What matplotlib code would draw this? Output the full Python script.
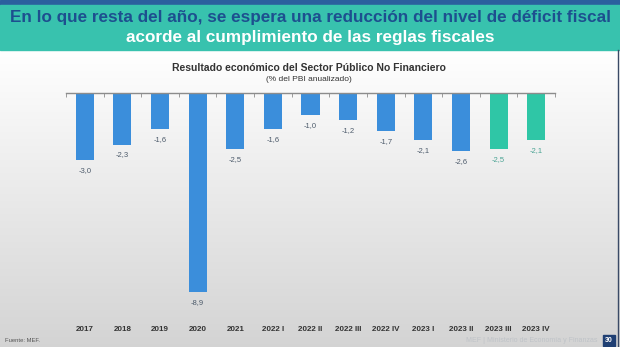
import numpy as np
import matplotlib
matplotlib.use("Agg")
from matplotlib import pyplot as plt
from matplotlib.patches import Rectangle

plt.rcParams['font.family'] = ['Liberation Sans', 'DejaVu Sans']

periods = ['2017', '2018', '2019', '2020', '2021', '2022 I', '2022 II', '2022 III',
           '2022 IV', '2023 I', '2023 II', '2023 III', '2023 IV']
values = [-3.0, -2.3, -1.6, -8.9, -2.5, -1.6, -1.0, -1.2, -1.7, -2.1, -2.6, -2.5, -2.1]
projected = [False] * 11 + [True, True]

blue, teal = '#3b8edb', '#2fc6a6'
W, H = 620, 347
fig = plt.figure(figsize=(W / 100, H / 100), dpi=100)

# slide background: white at the top fading to light gray at the bottom
bg = fig.add_axes([0, 0, 1, 1])
grad = np.linspace(0.0, 1.0, 256).reshape(-1, 1, 1)
top_c = np.array([1.0, 1.0, 1.0])
bot_c = np.array([0.83, 0.83, 0.83])
img = (1 - grad) * top_c + grad * bot_c
bg.imshow(img, extent=[0, W, H, 50], aspect='auto', origin='upper')
bg.set_xlim(0, W)
bg.set_ylim(H, 0)
bg.axis('off')

# header band
bg.add_patch(Rectangle((0, 0), W, 5, color='#2b5f9e'))
bg.add_patch(Rectangle((0, 5), W, 45, color='#38c2ae'))
bg.text(W / 2, 17, 'En lo que resta del año, se espera una reducción del nivel de déficit fiscal',
        ha='center', va='center', fontsize=12.3, fontweight='bold', color='#1d4f8f')
bg.text(W / 2, 37, 'acorde al cumplimiento de las reglas fiscales',
        ha='center', va='center', fontsize=12.3, fontweight='bold', color='white')

bg.text(309, 68, 'Resultado económico del Sector Público No Financiero',
        ha='center', va='center', fontsize=7.5, fontweight='bold', color='#333333')
bg.text(309, 79, '(% del PBI anualizado)', ha='center', va='center', fontsize=6, color='#333333')

# footer
bg.text(5, 340, 'Fuente: MEF.', ha='left', va='center', fontsize=4.2, color='#555555')
bg.text(598, 341, 'MEF | Ministerio de Economía y Finanzas', ha='right', va='center',
        fontsize=5, color='#bfc3c8')
bg.add_patch(Rectangle((603, 335), 12, 11, color='#1f3f73'))
bg.text(609, 340.5, '30', ha='center', va='center', fontsize=5, color='white', fontweight='bold')
bg.plot([618, 618], [50, H], color='#3a4a66', lw=1)

# chart
left, right, top, bottom = 66, 555, 93, 320
ax = fig.add_axes([left / W, 1 - bottom / H, (right - left) / W, (bottom - top) / H])
ax.patch.set_alpha(0)
x = np.arange(len(periods))
colors = [teal if p else blue for p in projected]
ax.bar(x, values, width=0.48, color=colors)
for xi, v, p in zip(x, values, projected):
    ax.text(xi, v - 0.3, f'{v:.1f}'.replace('.', ','), ha='center', va='top',
            fontsize=5.5, color='#4aa393' if p else '#4d5b6b')

ax.set_xlim(-0.5, len(periods) - 0.5)
ax.set_ylim(-(bottom - top) / 22.4, 0)
for s in ['left', 'right', 'bottom']:
    ax.spines[s].set_visible(False)
ax.spines['top'].set_color('#8c8c8c')
ax.spines['top'].set_linewidth(1)
ax.set_yticks([])
ax.set_xticks(x)
ax.set_xticklabels(periods, fontsize=5.8, fontweight='bold', color='#333333')
ax.tick_params(axis='x', which='major', length=0, pad=4)
ax.set_xticks(np.arange(-0.5, len(periods)), minor=True)
ax.tick_params(axis='x', which='minor', bottom=False, top=True, direction='in',
               length=3, color='#8c8c8c')

fig.savefig('out.png', dpi=100)
